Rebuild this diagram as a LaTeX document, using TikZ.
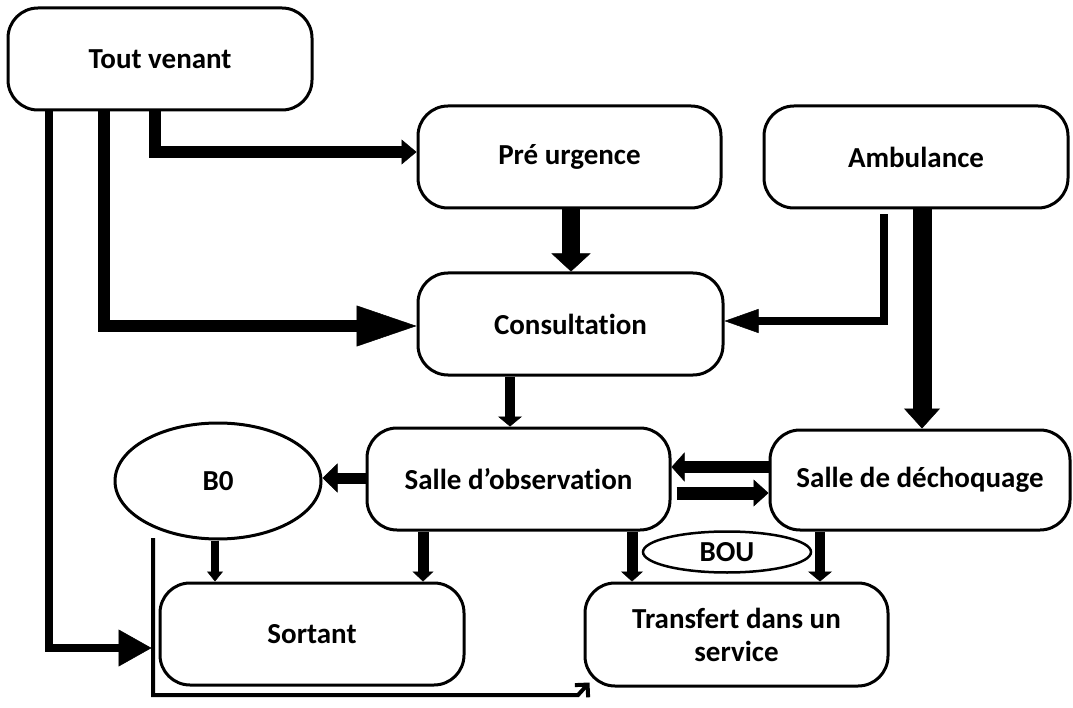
\documentclass[tikz,border=0pt]{standalone}
\usepackage{fontspec}
\setmainfont[Ligatures=NoCommon]{Carlito}
\usetikzlibrary{arrows.meta,shapes.geometric,calc}
\begin{document}
\begin{tikzpicture}[x=1pt,y=-1pt,
  txt/.style={font=\fontsize{29}{33}\selectfont\bfseries, align=center},
  box/.style={txt, draw, line width=3pt, rounded corners=30pt, minimum width=304pt, minimum height=102pt, inner sep=0pt},
  oval/.style={txt, draw, ellipse, line width=3pt, inner sep=0pt},
  arr/.style n args={3}{line width=#1, -{Triangle[length=#2, width=#3, line width=0.5pt]}},
  thin/.style={line width=4pt, -{Straight Barb[length=9pt, width=18pt, line width=4pt]}}
]
\useasboundingbox (0,0) rectangle (1073,708);
\fill[white] (0,0) rectangle (1073,708);

% nodes
\node[box] (tv) at (160,59) {Tout venant};
\node[box, minimum width=303pt] (pre) at (569.5,157) {Pré urgence};
\node[box] (amb) at (916,157) {Ambulance};
\node[box, minimum width=305pt] (con) at (570.5,324) {Consultation};
\node[box, minimum width=303pt] (obs) at (518.5,479) {Salle d’observation};
\node[box, minimum width=300pt, minimum height=100pt] (dech) at (920,480) {Salle de déchoquage};
\node[oval, minimum width=206pt, minimum height=116pt] (bo) at (218,481) {B0};
\node[box] (sort) at (312,634) {Sortant};
\node[box, minimum width=303pt, minimum height=103pt] (tr) at (736.5,634.5) {Transfert dans un\\service};
\node[oval, minimum width=168pt, minimum height=41pt, line width=2.5pt] (bou) at (727,552) {BOU};

\coordinate (r1) at (153,538);
\coordinate (r2) at (153,695);
\coordinate (r3) at (578,695);

% connectors
\draw[arr={12pt}{15pt}{25pt}] (tv.south -| 155,0) |- (pre.west |- 0,152);
\draw[arr={12pt}{60pt}{41pt}] (tv.south -| 104,0) |- (con.west |- 0,326);
\draw[arr={8pt}{33pt}{37pt}] (tv.south -| 49,0) |- ($(sort.west |- 0,648)+(-7,0)$);
\draw[arr={18pt}{18pt}{39pt}] (pre.south -| 571,0) -- (con.north -| 571,0);
\draw[arr={8pt}{34pt}{24pt}] ($(amb.south -| 884,0)+(0,5)$) |- (con.east |- 0,321);
\draw[arr={19pt}{20pt}{36pt}] (amb.south -| 922,0) -- (dech.north -| 922,0);
\draw[arr={10pt}{10pt}{24pt}] (con.south -| 510,0) -- (obs.north -| 510,0);
\draw[arr={12pt}{13pt}{29pt}] (dech.west |- 0,467) -- (obs.east |- 0,467);
\draw[arr={13pt}{15pt}{27pt}] ($(obs.east |- 0,493)+(5,0)$) -- (dech.west |- 0,493);
\draw[arr={11pt}{15pt}{29pt}] (obs.west |- 0,478) -- (bo.east |- 0,478);
\draw[arr={8pt}{10pt}{16pt}] (bo.south -| 215,0) -- (sort.north -| 215,0);
\draw[arr={11pt}{10pt}{21pt}] (obs.south -| 423,0) -- (sort.north -| 423,0);
\draw[arr={11pt}{10pt}{22pt}] (obs.south -| 632,0) -- (tr.north -| 632,0);
\draw[arr={10pt}{10pt}{24pt}] (dech.south -| 820,0) -- (tr.north -| 820,0);
\draw[thin] (r1) -- (r2) -- (r3) -- ($(tr.south west)+(6,-5)$);
\end{tikzpicture}
\end{document}
